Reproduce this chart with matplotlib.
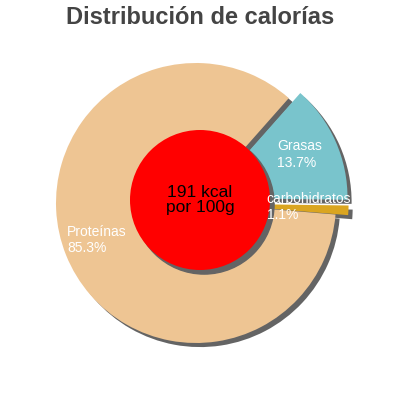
import matplotlib
matplotlib.use("Agg")
import matplotlib.pyplot as plt
from matplotlib.patches import Circle, Shadow

# data
nutrients = ["Grasas", "carbohidratos", "Proteínas"]
percents = [13.7, 1.1, 85.3]
colors = ["#79c4cc", "#daa520", "#eec593"]
exploded = [0.09, 0.09, 0.0]
energy_text = "191 kcal\npor 100g"

plt.rcParams["font.family"] = ["Liberation Sans", "DejaVu Sans"]

fig = plt.figure(figsize=(4, 4), dpi=100)
ax = fig.add_axes([0, 0, 1, 1])

R = 140.0  # pie radius in pixels

labels = [f"{n}\n{p:.1f}%" for n, p in zip(nutrients, percents)]
shadow_style = {"ox": 0.021, "oy": -0.021, "facecolor": "#646464",
                "edgecolor": "#646464", "alpha": 1.0}
wedges, texts = ax.pie(percents, labels=labels, colors=colors, explode=exploded,
                       startangle=48.5, counterclock=False, labeldistance=0.74,
                       shadow=shadow_style, wedgeprops={"linewidth": 0},
                       textprops={"color": "white", "fontsize": 10})
for t in texts:
    t.set_ha("center")
    t.set_va("center")
    t.set_multialignment("left")
    t.set_zorder(7)
    x, y = t.get_position()
    t.set_position((x - 3 / R, y + 1.5 / R))

# pie centre sits at pixel (196, 203)
ax.set_xlim(-196 / R, (400 - 196) / R)
ax.set_ylim(-(400 - 203) / R, 203 / R)
ax.axis("off")

# red centre disc with its own shadow
disc = Circle((4 / R, 3 / R), 0.5, facecolor="red", edgecolor="none", zorder=5)
disc_shadow = Shadow(disc, 0.021, -0.021, facecolor="#646464", edgecolor="#646464",
                     alpha=1.0)
disc_shadow.set_zorder(4.5)
ax.add_patch(disc_shadow)
ax.add_patch(disc)
ax.text(4 / R, 3 / R, energy_text, ha="center", va="center", fontsize=12.5,
        color="black", zorder=6, linespacing=1.0)

fig.text(0.5, 1 - 17 / 400, "Distribución de calorías", ha="center", va="center",
         fontsize=17, fontweight="bold", color="#444444")

fig.savefig("out.png", dpi=100)
